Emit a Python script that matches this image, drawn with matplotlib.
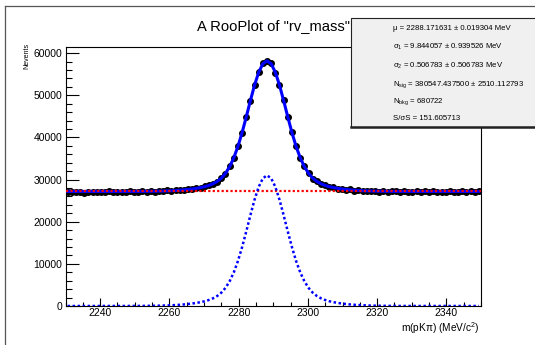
import numpy as np
import matplotlib
matplotlib.use('Agg')
import matplotlib.pyplot as plt
import matplotlib.lines as mlines
import matplotlib.patches as mpatches
from matplotlib.ticker import MultipleLocator

plt.rcParams['font.family'] = ['Liberation Sans', 'DejaVu Sans']
plt.rcParams['mathtext.default'] = 'regular'

# binning of rv_mass (100 bins over the plot range)
mass_lo, mass_hi, n_bins = 2230.0, 2350.0, 100

# data: events per bin
counts = [
    27050, 26980, 27120, 27010, 26920, 27090, 27060, 26990, 27140, 27030,
    27380, 27150, 27060, 27110, 27000, 27190, 27090, 27150, 27230, 27120,
    27300, 27150, 27330, 27240, 27420, 27290, 27480, 27520, 27510, 27700,
    27850, 27980, 28010, 28420, 28700, 29050, 29480, 30420, 31400, 33100,
    35100, 37950, 41050, 44900, 48650, 52500, 55400, 57600, 58100, 57550,
    55300, 52500, 48800, 44750, 41200, 37900, 35050, 33150, 31550, 30250,
    29650, 28950, 28700, 28250, 28150, 27850, 27820, 27600, 27650, 27400,
    27450, 27280, 27350, 27190, 27300, 27150, 27260, 27120, 27230, 27170,
    27090, 27210, 27140, 27060, 27230, 27110, 27180, 27050, 27200, 27120,
    27160, 27080, 27220, 27100, 27030, 27190, 27110, 27250, 27060, 27170,
]

# signal component of the fit, read at the bin centres
sig_curve = [
    0, 0, 0, 0, 0, 0, 0, 0, 0, 0,
    1, 1, 2, 3, 4, 6, 9, 13, 19, 27,
    38, 52, 72, 97, 130, 172, 225, 290, 370, 470,
    590, 730, 910, 1130, 1420, 1820, 2370, 3160, 4290, 5860,
    7970, 10680, 13960, 17670, 21550, 25230, 28280, 30290, 31000, 30290,
    28280, 25230, 21550, 17670, 13960, 10680, 7970, 5860, 4290, 3160,
    2370, 1820, 1420, 1130, 910, 730, 590, 470, 370, 290,
    225, 172, 130, 97, 72, 52, 38, 27, 19, 13,
    9, 6, 4, 3, 2, 1, 1, 0, 0, 0,
    0, 0, 0, 0, 0, 0, 0, 0, 0, 0,
]

# flat background level
bkg_level = 27180

title = 'A RooPlot of "rv_mass"'
x_title = 'm(pK\u03c0) (MeV/c$^{2}$)'
y_title = 'Nevents'
y_max = 61450

stats_lines = [
    '\u03bc = 2288.171631 \u00b1 0.019304 MeV',
    '\u03c3$_{1}$ = 9.844057 \u00b1 0.939526 MeV',
    '\u03c3$_{2}$ = 0.506783 \u00b1 0.506783 MeV',
    'N$_{sig}$ = 380547.437500 \u00b1 2510.112793',
    'N$_{bkg}$ = 680722',
    'S/\u03c3S = 151.605713',
]


def bin_centers():
    width = (mass_hi - mass_lo) / n_bins
    return mass_lo + width * (np.arange(n_bins) + 0.5)


def plot_frame(ax):
    x = bin_centers()
    y = np.array(counts, dtype=float)
    sig = np.array(sig_curve, dtype=float)

    # data points
    ax.errorbar(x, y, yerr=np.sqrt(y), fmt='o', color='black', ms=4.0,
                elinewidth=0.8, capsize=0, zorder=3)
    # total fit
    ax.plot(x, sig + bkg_level, color='#0000ff', lw=2.2, zorder=4)
    # background
    ax.plot([mass_lo, mass_hi], [bkg_level, bkg_level], color='#ff0000',
            lw=1.6, ls=(0, (1, 1)), zorder=5)
    # signal
    ax.plot(x, sig, color='#0000ff', lw=1.8, ls=(0, (1, 1)), zorder=6)

    ax.set_xlim(mass_lo, mass_hi)
    ax.set_ylim(0, y_max)


def style_axis(ax):
    ax.xaxis.set_major_locator(MultipleLocator(20))
    ax.xaxis.set_minor_locator(MultipleLocator(5))
    ax.yaxis.set_major_locator(MultipleLocator(10000))
    ax.yaxis.set_minor_locator(MultipleLocator(2000))
    ax.tick_params(axis='x', which='major', direction='in', length=5.6,
                   width=0.8, labelsize=7.5, pad=1.8, top=False)
    ax.tick_params(axis='x', which='minor', direction='in', length=2.8,
                   width=0.8, top=False)
    ax.tick_params(axis='y', which='major', direction='in', length=9.0,
                   width=0.8, labelsize=7.5, pad=2.3, right=False)
    ax.tick_params(axis='y', which='minor', direction='in', length=4.5,
                   width=0.8, right=False)
    for s in ax.spines.values():
        s.set_linewidth(0.8)


def add_labels(fig, ax):
    fig.text(0.5107, 0.926, title, ha='center', va='center', fontsize=10.6)
    fig.text(479.5 / 535, 1 - 332 / 345, x_title, ha='right', va='baseline',
             fontsize=7.3)
    fig.text(27 / 535, 1 - 43 / 345, y_title, ha='center', va='top',
             rotation=90, fontsize=5.0)


def add_stats_box(fig):
    x0, y0 = 351 / 535, 1 - 127 / 345
    box = mpatches.Rectangle((x0, y0), 0.4, 109 / 345,
                             transform=fig.transFigure, facecolor='#f0f0f0',
                             edgecolor='#222222', lw=0.8, zorder=10)
    fig.patches.append(box)
    shadow = mlines.Line2D([x0, 1.0], [y0, y0], transform=fig.transFigure,
                           color='#222222', lw=1.8, zorder=11)
    fig.lines.append(shadow)
    rows = [27, 45, 64, 82, 99, 118]
    for r, s in zip(rows, stats_lines):
        fig.text(393 / 535, 1 - r / 345, s, ha='left', va='center_baseline',
                 fontsize=5.6, zorder=12)


def add_canvas_border(fig):
    left = mlines.Line2D([4.5 / 535, 4.5 / 535], [0, 1 - 6 / 345],
                         transform=fig.transFigure, color='#555555', lw=0.9)
    top = mlines.Line2D([4.5 / 535, 1], [1 - 6 / 345, 1 - 6 / 345],
                        transform=fig.transFigure, color='#555555', lw=0.9)
    fig.lines.extend([left, top])


fig = plt.figure(figsize=(5.35, 3.45), dpi=100)
ax = fig.add_axes([65.5 / 535, 1 - 306 / 345, 415.5 / 535, 259 / 345])
plot_frame(ax)
style_axis(ax)
add_labels(fig, ax)
add_stats_box(fig)
add_canvas_border(fig)
fig.savefig('out.png', dpi=100)
